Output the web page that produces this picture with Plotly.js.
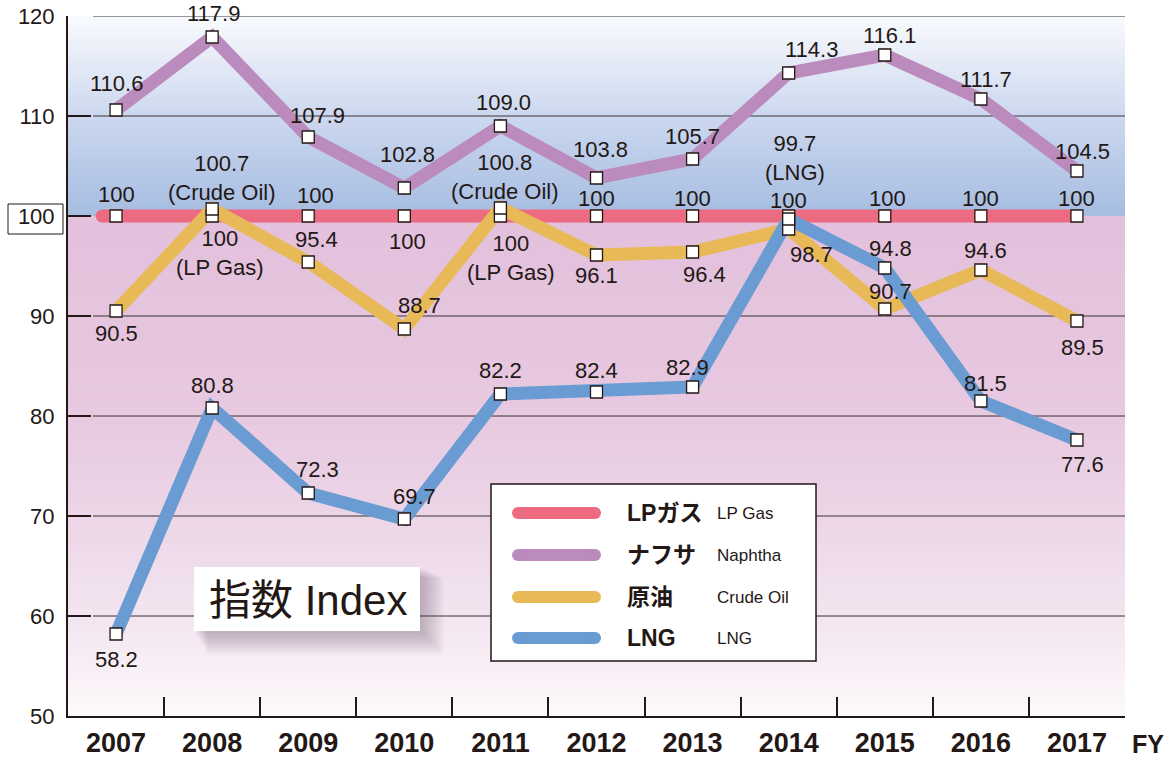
<!DOCTYPE html>
<html>
<head>
<meta charset="utf-8">
<script src="https://cdn.plot.ly/plotly-3.0.1.min.js"></script>
<style>html,body{margin:0;padding:0;background:#fff;}#chart{width:1173px;height:760px;}</style>
</head>
<body>
<div id="chart"></div>
<script>
// ---------------- DATA ----------------
const years = ['2007','2008','2009','2010','2011','2012','2013','2014','2015','2016','2017'];
const lpGas   = [100, 100, 100, 100, 100, 100, 100, 100, 100, 100, 100];
const naphtha = [110.6, 117.9, 107.9, 102.8, 109.0, 103.8, 105.7, 114.3, 116.1, 111.7, 104.5];
const crudeOil= [90.5, 100.7, 95.4, 88.7, 100.8, 96.1, 96.4, 98.7, 90.7, 94.6, 89.5];
const lng     = [58.2, 80.8, 72.3, 69.7, 82.2, 82.4, 82.9, 99.7, 94.8, 81.5, 77.6];

const lpNotes    = ['', '(LP Gas)', '', '', '(LP Gas)', '', '', '', '', '', ''];
const crudeNotes = ['', '(Crude Oil)', '', '', '(Crude Oil)', '', '', '', '', '', ''];
const lngNotes   = ['', '', '', '', '', '', '', '(LNG)', '', '', ''];
const naphthaNotes = ['', '', '', '', '', '', '', '', '', '', ''];

const namesJa = ['LPガス', 'ナフサ', '原油', 'LNG'];
const namesEn = ['LP Gas', 'Naphtha', 'Crude Oil', 'LNG'];
const yTicks = [50, 60, 70, 80, 90, 100, 110, 120];
const boxTitle = '指数 Index';
const xUnit = 'FY';

// ---------------- STYLE / PLACEMENT ----------------
const colors = ['#ec6b80', '#bb8bbd', '#e8b957', '#6a9bd2'];
const ink = '#231815';
// label offsets (dx, dy) in px from the point (dy positive = down)
const lpOff      = [[0,-22],[8,37],[7,-21],[3,25],[11,42],[0,-18],[0,-18],[0,-16],[3,-18],[0,-18],[0,-18]];
const naphthaOff = [[0,-27],[1,-24],[9,-22],[3,-34],[3,-24],[4,-29],[0,-23],[23,-24],[5,-20],[5,-20],[6,-20]];
const crudeOff   = [[0,22],[10,-31],[8,-23],[15,-24],[5,-31],[0,20],[12,22],[23,25],[6,-18],[5,-20],[6,26]];
const lngOff     = [[0,25],[0,-23],[9,-24],[10,-23],[0,-24],[0,-22],[-5,-20],[6,-61],[6,-20],[5,-18],[6,24]];

const L = 68, R = 1125, T = 16, B = 716;
const px = x => (x - L) / (R - L);
const py = y => (B - y) / (B - T);

function hex2rgb(h){h=h.replace('#','');return [0,2,4].map(i=>parseInt(h.substr(i,2),16));}
function interp(stops, v){
  for (let i=0;i<stops.length-1;i++){
    const a=stops[i], b=stops[i+1];
    if (v>=a[0] && v<=b[0]){
      const t=(v-a[0])/(b[0]-a[0]); const ca=hex2rgb(a[1]), cb=hex2rgb(b[1]);
      const c=ca.map((x,k)=>Math.round(x+(cb[k]-x)*t));
      return 'rgb('+c.join(',')+')';
    }
  }
  return stops[stops.length-1][1];
}
const blueStops = [[100,'#a6bde1'],[105,'#b9cae8'],[110,'#ccd8ef'],[115,'#e3e9f6'],[120,'#f9fbfe']];
const pinkStops = [[50,'#fdf9fc'],[60,'#f3e5f0'],[70,'#ecd5e7'],[80,'#e7c9e0'],[100,'#e3c0dc']];

const shapes = [];
// gradient background bands
const step = 0.25;
for (let v=100; v<120; v+=step){
  shapes.push({type:'rect', xref:'paper', yref:'y', x0:0, x1:1, y0:v, y1:Math.min(v+step+0.06,120),
    fillcolor: interp(blueStops, v+step/2), line:{width:0}, layer:'below'});
}
for (let v=50; v<100; v+=step){
  shapes.push({type:'rect', xref:'paper', yref:'y', x0:0, x1:1, y0:v, y1:Math.min(v+step+0.06,100),
    fillcolor: interp(pinkStops, v+step/2), line:{width:0}, layer:'below'});
}
// gridlines (start a little right of the axis)
yTicks.filter(v => v !== 50 && v !== 100).forEach(v => {
  shapes.push({type:'line', xref:'paper', yref:'y', x0:px(93), x1:1, y0:v, y1:v,
    line:{color:'#3a3336', width:1}, layer:'between'});
});
// rounded left end of the LP Gas line
shapes.push({type:'rect', xref:'x', yref:'y', xsizemode:'pixel', ysizemode:'pixel', xanchor:0, yanchor:lpGas[0],
  x0:-14, x1:0, y0:-6.5, y1:6.5, fillcolor:colors[0], line:{width:0}, layer:'between'});
shapes.push({type:'circle', xref:'x', yref:'y', xsizemode:'pixel', ysizemode:'pixel', xanchor:0, yanchor:lpGas[0],
  x0:-20.5, x1:-7.5, y0:-6.5, y1:6.5, fillcolor:colors[0], line:{width:0}, layer:'between'});
// box around the 100 tick label
shapes.push({type:'rect', xref:'paper', yref:'y', x0:px(8), x1:px(63), y0:98.2, y1:101.2,
  line:{color:ink, width:1}, fillcolor:'rgba(0,0,0,0)', layer:'above'});
// Index box with soft shadow
for (let i=9;i>=1;i--){
  shapes.push({type:'rect', xref:'paper', yref:'paper', x0:px(194+i*1.5), x1:px(420+i*2.6), y0:py(631+i*2.6), y1:py(567+i*1.2),
    fillcolor:'rgba(90,60,85,0.045)', line:{width:0}, layer:'between'});
}
shapes.push({type:'rect', xref:'paper', yref:'paper', x0:px(194), x1:px(420), y0:py(631), y1:py(567),
  fillcolor:'#ffffff', line:{width:0}, layer:'between'});
// legend box
shapes.push({type:'rect', xref:'paper', yref:'paper', x0:px(491), x1:px(816), y0:py(661), y1:py(484),
  fillcolor:'#ffffff', line:{color:ink, width:1.5}, layer:'between'});
const legRows = [513, 555, 597, 638];
legRows.forEach((ry, i) => {
  shapes.push({type:'line', xref:'paper', yref:'paper', x0:px(518), x1:px(595), y0:py(ry), y1:py(ry),
    line:{color:colors[i], width:12}, layer:'above'});
  [518, 595].forEach(cx => {
    shapes.push({type:'circle', xref:'paper', yref:'paper', xsizemode:'pixel', ysizemode:'pixel',
      xanchor:px(cx), yanchor:py(ry), x0:-6, x1:6, y0:-6, y1:6,
      fillcolor:colors[i], line:{width:0}, layer:'above'});
  });
});

// ---------------- TRACES ----------------
const series = [lpGas, naphtha, crudeOil, lng];
const traces = [];
series.forEach((s, i) => {
  traces.push({type:'scatter', mode:'lines', x:years, y:s, name:namesEn[i],
    line:{color:colors[i], width:13}, hoverinfo:'skip', showlegend:false});
});
series.forEach((s, i) => {
  traces.push({type:'scatter', mode:'markers', x:years, y:s, name:namesEn[i],
    marker:{symbol:'square', size:12, color:'#ffffff', line:{color:ink, width:1.3}},
    hoverinfo:'skip', showlegend:false, cliponaxis:false});
});

// ---------------- ANNOTATIONS ----------------
const annotations = [];
const labelFont = {family:'Liberation Sans, Arial, sans-serif', size:22, color:ink};
function addLabels(vals, notes, offs, isInt){
  vals.forEach((v, i) => {
    let t = isInt ? String(Math.round(v)) : v.toFixed(1);
    if (notes[i]) t += '<br>' + notes[i];
    annotations.push({xref:'x', yref:'y', x:i, y:v, text:t, showarrow:false,
      xshift:offs[i][0], yshift:-offs[i][1], xanchor:'center', yanchor:'middle', align:'center',
      font:labelFont});
  });
}
addLabels(lpGas, lpNotes, lpOff, true);
addLabels(naphtha, naphthaNotes, naphthaOff, false);
addLabels(crudeOil, crudeNotes, crudeOff, false);
addLabels(lng, lngNotes, lngOff, false);

// legend texts
legRows.forEach((ry, i) => {
  annotations.push({xref:'paper', yref:'paper', x:px(625), y:py(ry), text:namesJa[i], showarrow:false,
    xanchor:'left', yanchor:'middle', font:{family:'Liberation Sans, Noto Sans CJK JP, sans-serif', size:23, color:ink, weight:'bold'}});
  annotations.push({xref:'paper', yref:'paper', x:px(715), y:py(ry), text:namesEn[i], showarrow:false,
    xanchor:'left', yanchor:'middle', font:{family:'Liberation Sans, Arial, sans-serif', size:17, color:ink}});
});
// Index box text
annotations.push({xref:'paper', yref:'paper', x:px(308), y:py(600), text:boxTitle, showarrow:false,
  xanchor:'center', yanchor:'middle', font:{family:'Liberation Sans, Noto Sans CJK JP, sans-serif', size:42, color:ink}});
// FY unit
annotations.push({xref:'paper', yref:'paper', x:px(1148), y:py(744), text:xUnit, showarrow:false,
  xanchor:'center', yanchor:'middle', font:{family:'Liberation Sans Narrow, Arial Narrow, Liberation Sans, sans-serif', size:25, color:ink, weight:'bold'}});

const layout = {
  width:1173, height:760,
  margin:{l:L, r:1173-R, t:T, b:760-B, pad:0},
  paper_bgcolor:'#ffffff', plot_bgcolor:'rgba(0,0,0,0)',
  showlegend:false,
  xaxis:{type:'category', categoryorder:'array', categoryarray:years, range:[-0.5, years.length-0.5],
    showline:true, linecolor:ink, linewidth:2, ticks:'inside', ticklen:19, tickwidth:2, tickcolor:ink,
    tickson:'boundaries', showgrid:false, zeroline:false, ticklabelstandoff:2,
    tickfont:{family:'Liberation Sans Narrow, Arial Narrow, Liberation Sans, sans-serif', size:27, color:ink, weight:'bold'}},
  yaxis:{range:[50,120], tickvals:yTicks, ticktext:yTicks.map(String),
    showline:true, linecolor:ink, linewidth:2, ticks:'inside', ticklen:23, tickwidth:2, tickcolor:ink,
    showgrid:false, zeroline:false, ticklabelstandoff:7,
    tickfont:{family:'Liberation Sans, Arial, sans-serif', size:22, color:ink}},
  shapes:shapes,
  annotations:annotations
};

Plotly.newPlot('chart', traces, layout, {displayModeBar:false, staticPlot:true});
</script>
</body>
</html>
